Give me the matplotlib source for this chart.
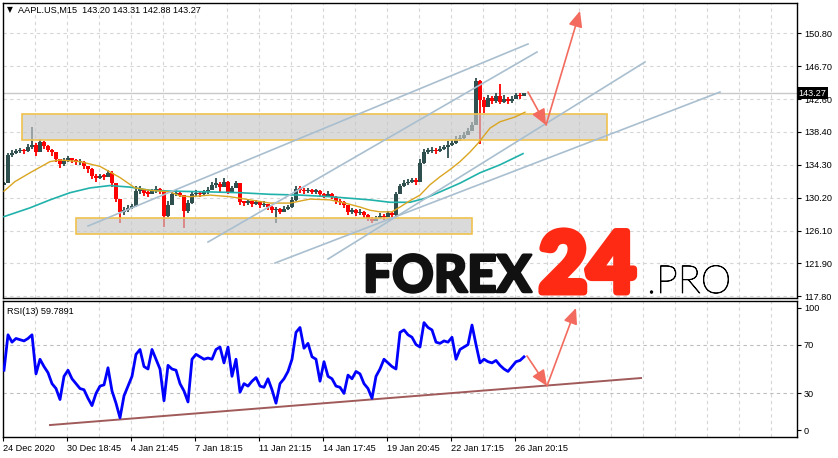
import matplotlib.pyplot as plt
import matplotlib.patheffects as pe
import numpy as np
import pandas as pd
from matplotlib.patches import Rectangle

OUTPUT_IMAGE = "out.png"
W, H = 838, 458

# Header texts
symbol_label = "AAPL.US,M15  143.20 143.31 142.88 143.27"
rsi_label = "RSI(13) 59.7891"
last_price = 143.27

# Axis ticks (MT4 style: evenly spaced positions, rounded labels)
price_ticks = [117.80, 121.925, 126.05, 130.175, 134.30, 138.425, 142.55, 146.675, 150.80]
price_tick_labels = ["117.80", "121.90", "126.10", "130.20", "134.30",
                     "138.40", "142.60", "146.70", "150.80"]
rsi_ticks = [0, 30, 70, 100]
date_ticks = [0, 64, 128, 192, 256, 320, 384, 448, 512]
date_labels = ["24 Dec 2020", "30 Dec 18:45", "4 Jan 21:45", "7 Jan 18:15",
               "11 Jan 21:15", "14 Jan 17:45", "19 Jan 20:45", "22 Jan 17:15",
               "26 Jan 20:15"]

# Candles, one every 4 bars
first_open = 131.8
candle_close = [
    132.0, 135.5, 135.8, 136.0, 136.1, 136.0, 136.5, 136.8, 135.9, 137.1,
    136.7, 136.2, 135.9, 135.0, 134.4, 134.8, 135.1, 134.9, 134.6, 134.7,
    134.2, 133.8, 132.9, 132.7, 132.9, 132.8, 133.3, 132.0, 130.0, 128.4,
    128.6, 128.9, 129.1, 131.0, 131.3, 130.8, 130.7, 131.0, 131.3, 131.0,
    127.9, 129.3, 130.6, 130.8, 130.5, 128.5, 129.5, 130.6, 130.8, 130.6,
    130.9, 131.2, 131.8, 131.9, 131.5, 132.2, 130.9, 131.4, 132.0, 129.6,
    129.5, 129.7, 129.4, 129.6, 129.2, 129.4, 129.0, 128.6, 128.7, 128.4,
    128.8, 129.0, 129.9, 131.3, 131.2, 131.0, 131.1, 130.9, 131.0, 130.6,
    130.4, 130.7, 130.3, 129.8, 129.6, 129.2, 128.4, 128.6, 128.2, 128.4,
    128.0, 127.5, 127.3, 127.6, 127.9, 127.7, 128.2, 128.0, 130.6, 131.6,
    132.0, 132.2, 132.4, 132.1, 134.5, 135.9, 136.0, 136.2, 136.0, 136.3,
    136.5, 136.8, 137.0, 137.5, 137.7, 138.0, 138.5, 139.3, 144.8, 142.4,
    141.6, 142.7, 142.3, 142.9, 142.2, 142.6, 142.3, 142.5, 143.0, 142.9, 143.27,
]
candle_high = [
    132.2, 135.8, 136.2, 136.3, 136.4, 136.3, 136.9, 139.0, 137.0, 137.5,
    137.3, 136.8, 136.3, 135.9, 135.0, 135.2, 135.4, 135.2, 135.0, 135.0,
    134.8, 134.2, 133.9, 133.2, 133.2, 133.1, 133.6, 133.5, 131.8, 129.9,
    129.0, 129.2, 129.4, 131.6, 131.7, 131.3, 131.0, 131.3, 131.6, 131.4,
    131.0, 129.8, 131.0, 131.2, 131.0, 130.5, 129.9, 131.0, 131.1, 131.0,
    131.2, 131.5, 132.2, 132.6, 132.1, 132.7, 132.3, 131.7, 132.3, 130.3,
    129.8, 130.0, 129.8, 129.9, 129.6, 129.7, 129.4, 129.1, 129.0, 128.9,
    129.1, 129.3, 130.2, 131.6, 131.6, 131.4, 131.4, 131.3, 131.3, 131.1,
    130.8, 131.0, 130.8, 130.4, 130.0, 129.8, 129.3, 128.9, 128.7, 128.7,
    128.5, 128.1, 127.8, 127.9, 128.2, 128.1, 128.5, 128.4, 130.9, 131.9,
    132.4, 132.5, 132.7, 132.6, 135.0, 136.3, 136.4, 136.5, 136.4, 136.6,
    136.8, 137.3, 137.4, 137.9, 138.1, 138.4, 138.9, 139.7, 145.2, 144.9,
    142.8, 143.1, 142.9, 143.3, 144.4, 143.0, 142.8, 142.9, 143.3, 143.3, 143.31,
]
candle_low = [
    131.8, 133.4, 135.3, 135.6, 135.8, 135.7, 135.9, 136.3, 135.4, 136.0,
    136.3, 135.9, 135.4, 134.6, 133.9, 134.2, 134.6, 134.5, 134.3, 134.3,
    133.8, 133.3, 132.5, 132.2, 132.5, 132.4, 132.8, 131.5, 129.6, 127.0,
    128.0, 128.4, 128.7, 129.0, 130.6, 130.4, 130.3, 130.6, 130.8, 130.6,
    126.5, 127.8, 129.2, 130.4, 130.2, 126.4, 128.3, 129.4, 130.4, 130.3,
    130.5, 130.7, 131.1, 131.4, 130.9, 131.5, 130.6, 130.9, 131.5, 129.2,
    129.1, 129.3, 129.0, 129.2, 128.9, 129.0, 128.6, 128.3, 127.0, 128.1,
    128.4, 128.6, 128.9, 129.8, 130.8, 130.7, 130.8, 130.6, 130.7, 130.3,
    130.1, 130.3, 130.0, 129.4, 129.2, 128.9, 128.0, 128.1, 127.9, 128.0,
    127.6, 127.2, 127.0, 127.2, 127.5, 127.4, 127.8, 127.7, 127.9, 130.8,
    131.5, 131.8, 132.0, 131.8, 132.1, 134.4, 135.6, 135.8, 135.7, 135.9,
    136.1, 135.2, 136.6, 136.9, 137.3, 137.6, 138.1, 138.6, 139.3, 136.9,
    140.8, 141.5, 141.9, 142.1, 141.9, 142.0, 141.9, 142.1, 142.6, 142.6, 142.88,
]

# Moving averages (bar index, value)
ma_fast_x = [1, 12, 27, 47, 57, 77, 97, 107, 117, 132, 147, 167, 177, 187, 207, 227,
             247, 267, 287, 307, 327, 342, 357, 367, 377, 389, 397, 407, 417, 427,
             437, 447, 457, 467, 475, 487, 497, 512, 522]
ma_fast = [131.0, 132.2, 133.3, 134.7, 134.9, 134.7, 134.1, 133.4, 132.7, 131.4,
           131.1, 130.9, 130.4, 130.3, 130.5, 130.3, 129.9, 129.5, 129.5, 130.0,
           129.9, 129.5, 129.0, 128.6, 128.4, 128.4, 129.0, 129.8, 130.5, 131.8,
           132.8, 133.7, 134.7, 135.9, 137.0, 138.9, 139.7, 140.3, 140.9]
ma_slow_x = [1, 27, 47, 67, 87, 107, 127, 147, 167, 207, 237, 267, 297, 327, 347,
             367, 387, 407, 422, 437, 457, 477, 497, 520]
ma_slow = [127.8, 128.9, 129.9, 130.8, 131.4, 131.7, 131.5, 131.1, 131.0, 130.9,
           130.8, 130.6, 130.5, 130.3, 130.1, 129.9, 129.6, 129.6, 130.1, 130.9,
           132.0, 133.3, 134.3, 135.7]

# RSI(13), one value every 4 bars
rsi_values = [
    49, 78, 72, 75, 74, 73, 75, 78, 46, 58,
    52, 47, 38, 34, 25, 44, 49, 42, 38, 34,
    33, 26, 20, 30, 36, 37, 51, 32, 22, 10,
    28, 36, 44, 62, 66, 52, 50, 66, 58, 50,
    24, 53, 50, 49, 38, 32, 23, 58, 62, 60,
    58, 59, 58, 66, 68, 55, 68, 44, 58, 31,
    38, 36, 40, 43, 36, 35, 42, 33, 22, 38,
    42, 48, 58, 80, 84, 67, 71, 60, 58, 40,
    56, 44, 42, 36, 35, 30, 45, 42, 48, 46,
    38, 34, 26, 44, 50, 58, 55, 52, 50, 80,
    82, 78, 76, 70, 68, 88, 84, 82, 72, 71,
    73, 72, 76, 58, 66, 68, 70, 86, 70, 55,
    58, 56, 55, 57, 53, 50, 48, 52, 56, 57, 60,
]

# Drawn objects: trend lines, zones, forecast arrows
trend_x0 = [85, 205, 325, 272]
trend_p0 = [126.62, 124.61, 122.48, 121.98]
trend_x1 = [525, 534, 642, 717]
trend_p1 = [149.46, 148.45, 147.20, 143.43]
zone_x0 = [19, 73]
zone_x1 = [604, 469]
zone_top = [140.64, 127.62]
zone_bottom = [137.38, 125.62]
forecast_x = [525, 543, 577]
forecast_price = [143.43, 139.28, 153.60]
rsi_forecast_x = [524, 544, 573]
rsi_forecast = [60.7, 36.1, 100.0]
rsi_support_x = [47, 638]
rsi_support = [4.1, 42.6]

BULL = "#2f4f4f"
BEAR = "#ff0000"
GRID = "#d6d6d6"
TREND = "#a9bfcf"
ARROW = "#f36b5e"
SMALL = dict(family="Liberation Sans", fontsize=6.6)


def fx(px):
    return px / W


def fy(py):
    return 1 - py / H


fig = plt.figure(figsize=(W / 100, H / 100), dpi=100)
ax = fig.add_axes([fx(3), fy(298), 794 / W, 295 / H])
ax_rsi = fig.add_axes([fx(3), fy(437), 794 / W, 136 / H])

# --- main price panel ---
ax.set_xlim(0, 794)
ax.set_ylim(117.59, 154.60)

for vx in range(32, 794, 32):
    ax.axvline(vx, color=GRID, lw=0.8, ls=(0, (3, 3)), zorder=0)
for p in price_ticks:
    ax.axhline(p, color=GRID, lw=0.8, ls=(0, (3, 3)), zorder=0)
ax.axhline(last_price, color="#c8c8c8", lw=1.0, zorder=0.5)

candles = pd.DataFrame({"close": candle_close, "high": candle_high, "low": candle_low})
candles["bar"] = 1 + 4 * np.arange(len(candles))
candles["open"] = candles["close"].shift(1).fillna(first_open)
body_lo = candles[["open", "close"]].min(axis=1)
body_hi = candles[["open", "close"]].max(axis=1)
colors = np.where(candles["close"] >= candles["open"], BULL, BEAR)

ax.vlines(candles["bar"], np.minimum(candles["low"], body_lo),
          np.maximum(candles["high"], body_hi), colors=colors, lw=1.3, zorder=2)
ax.bar(candles["bar"], np.maximum(body_hi - body_lo, 0.2), bottom=body_lo,
       width=3.4, color=colors, linewidth=0, zorder=2)

# support / resistance zones
for x0, x1, top, bot in zip(zone_x0, zone_x1, zone_top, zone_bottom):
    ax.add_patch(Rectangle((x0, bot), x1 - x0, top - bot,
                           facecolor=(0.78, 0.78, 0.78, 0.66),
                           edgecolor="#f0c24e", lw=1.2, zorder=3))

ax.plot(ma_slow_x, ma_slow, color="#20b2aa", lw=1.2, zorder=4)
ax.plot(ma_fast_x, ma_fast, color="#daa520", lw=1.0, zorder=4)

for x0, p0, x1, p1 in zip(trend_x0, trend_p0, trend_x1, trend_p1):
    ax.plot([x0, x1], [p0, p1], color=TREND, lw=1.2, zorder=4)

arrow_style = dict(arrowstyle="-|>,head_length=0.95,head_width=0.42",
                   mutation_scale=10, color=ARROW, lw=1.2, shrinkA=0, shrinkB=0)
for i in range(len(forecast_x) - 1):
    ax.annotate("", xy=(forecast_x[i + 1], forecast_price[i + 1]),
                xytext=(forecast_x[i], forecast_price[i]),
                arrowprops=arrow_style, zorder=5)

ax.yaxis.tick_right()
ax.set_yticks(price_ticks)
ax.set_yticklabels(price_tick_labels, **SMALL)
ax.set_xticks([])
ax.tick_params(axis="y", length=3, width=0.8, pad=2, colors="black")
for s in ax.spines.values():
    s.set_linewidth(1.0)

ax.text(1.002, last_price, "143.27", transform=ax.get_yaxis_transform(),
        color="white", va="center", ha="left", clip_on=False, zorder=10,
        bbox=dict(facecolor="black", edgecolor="none", pad=1.2), **SMALL)

# --- RSI panel ---
ax_rsi.set_xlim(0, 794)
ax_rsi.set_ylim(-5.7, 105.7)
for vx in range(32, 794, 32):
    ax_rsi.axvline(vx, color=GRID, lw=0.8, ls=(0, (3, 3)), zorder=0)
for lvl in (30, 70):
    ax_rsi.axhline(lvl, color="#bdbdbd", lw=0.8, ls=(0, (3, 3)), zorder=0)

rsi_bars = 1 + 4 * np.arange(len(rsi_values))
ax_rsi.plot(rsi_bars, rsi_values, color="#0000ff", lw=2.0, zorder=3)
ax_rsi.plot(rsi_support_x, rsi_support, color="#a05a5a", lw=1.4, zorder=2)
for i in range(len(rsi_forecast_x) - 1):
    ax_rsi.annotate("", xy=(rsi_forecast_x[i + 1], rsi_forecast[i + 1]),
                    xytext=(rsi_forecast_x[i], rsi_forecast[i]),
                    arrowprops=arrow_style, zorder=5)

ax_rsi.yaxis.tick_right()
ax_rsi.set_yticks(rsi_ticks)
ax_rsi.set_yticklabels([str(t) for t in rsi_ticks], **SMALL)
ax_rsi.set_xticks(date_ticks)
ax_rsi.set_xticklabels(date_labels, ha="left", **SMALL)
ax_rsi.tick_params(axis="both", length=3, width=0.8, pad=2, colors="black")
for s in ax_rsi.spines.values():
    s.set_linewidth(1.0)

# --- header texts ---
fig.text(fx(7), fy(10), "\u25bc", family="DejaVu Sans", fontsize=5.5, va="center")
fig.text(fx(18), fy(10), symbol_label, va="center", **SMALL)
fig.text(fx(7), fy(311), rsi_label, va="center", **SMALL)

# --- watermark ---
fig.text(fx(363), fy(292), "FOREX", family="Lato", fontweight="black",
         fontsize=37, color="#111111", va="baseline", ha="left",
         path_effects=[pe.withStroke(linewidth=1.8, foreground="#111111")])
fig.text(fx(539), fy(292), "24", family="Lato", fontweight="black",
         fontsize=60, color="#ff2a14", va="baseline", ha="left",
         path_effects=[pe.withStroke(linewidth=5, foreground="#ff2a14")])
fig.text(fx(647), fy(293), ".PRO", family="Lato", fontweight="light",
         fontsize=28, color="#000000", va="baseline", ha="left",
         path_effects=[pe.withStroke(linewidth=0.6, foreground="#000000")])

fig.savefig(OUTPUT_IMAGE, dpi=100)
